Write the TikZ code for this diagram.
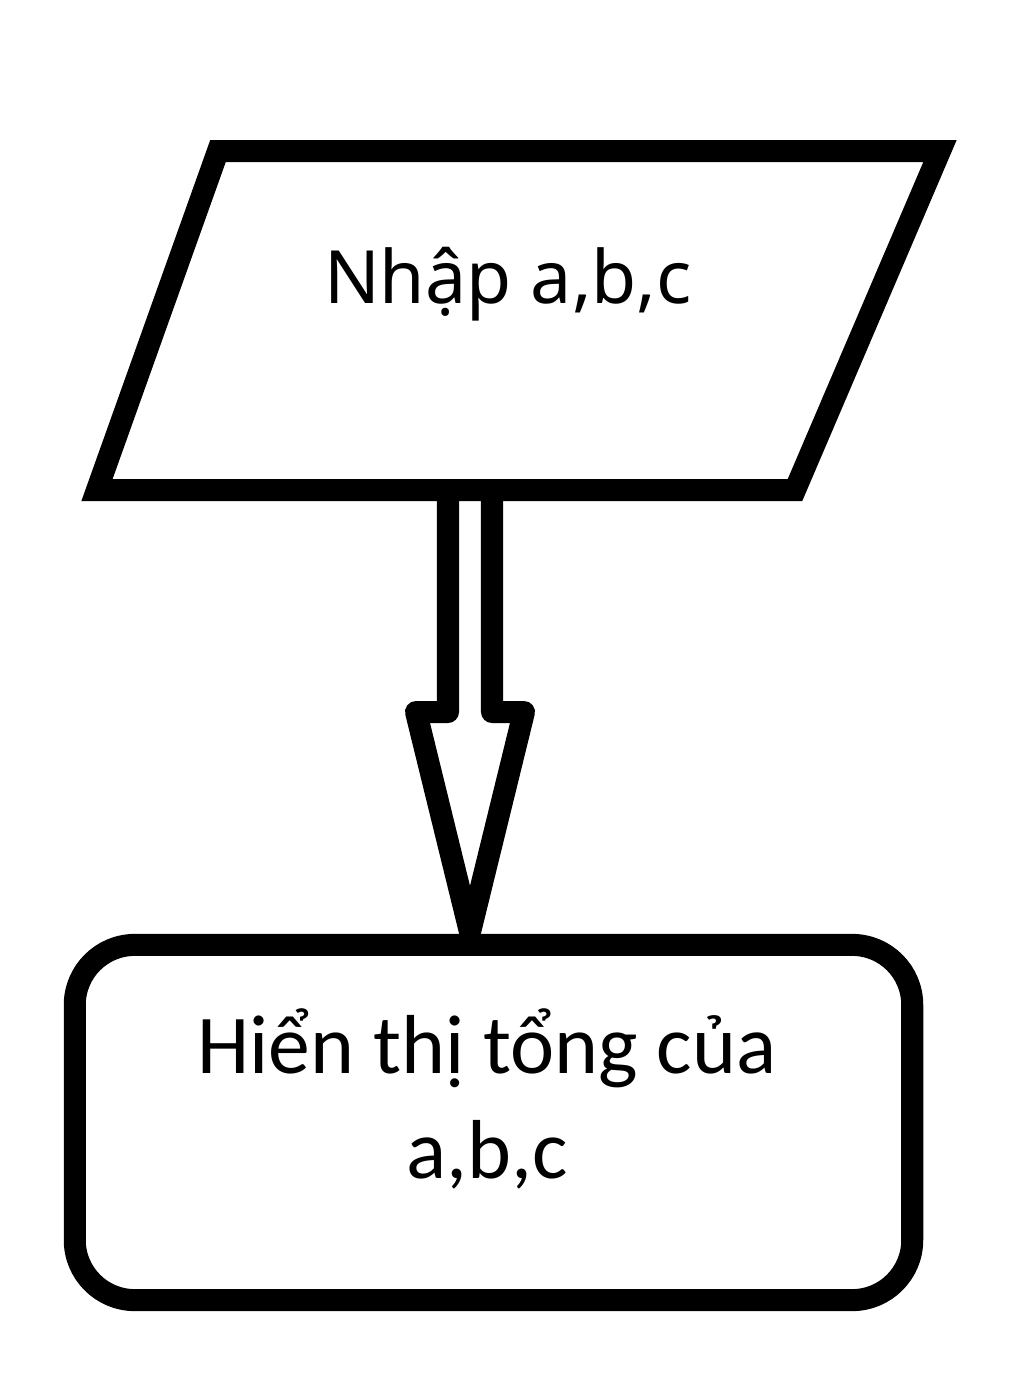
\documentclass[tikz,border=0pt]{standalone}
\usepackage{fontspec}
\setmainfont{Carlito}
\newfontfamily\inputfont{Noto Sans}
\usetikzlibrary{calc}
\begin{document}
\begin{tikzpicture}[x=0.01cm,y=-0.01cm,
    thickline/.style={draw=black, line width=0.22cm, line join=round},
    endbox/.style={thickline, rounded corners=0.6cm, minimum width=8.37cm, minimum height=3.55cm, inner sep=0pt},
    intext/.style={font=\inputfont\fontsize{20.9}{25}\selectfont},
    outtext/.style={font=\fontsize{23.8}{30}\selectfont, align=center}]
    \useasboundingbox (0,0) rectangle (1024,1399);
    \draw[thickline, line join=miter] (218,151) -- (940,151) -- (795,490) -- (97,490) -- cycle;
    \node[intext] (input) at (508,284) {Nhập a,b,c};
    \coordinate (inbot) at (470,490);
    \node[endbox] (output) at (493.5,1122.5) {};
    \node[outtext] (result) at (487,1099) {Hiển thị tổng của\\a,b,c};
    \coordinate (outtop) at (470,932);
    \draw[thickline] ($(inbot)+(-22,0)$) -- ($(inbot)+(-22,222)$) -- ($(inbot)+(-54,222)$)
        -- (outtop) -- ($(inbot)+(54,222)$) -- ($(inbot)+(22,222)$) -- ($(inbot)+(22,0)$);
\end{tikzpicture}
\end{document}
